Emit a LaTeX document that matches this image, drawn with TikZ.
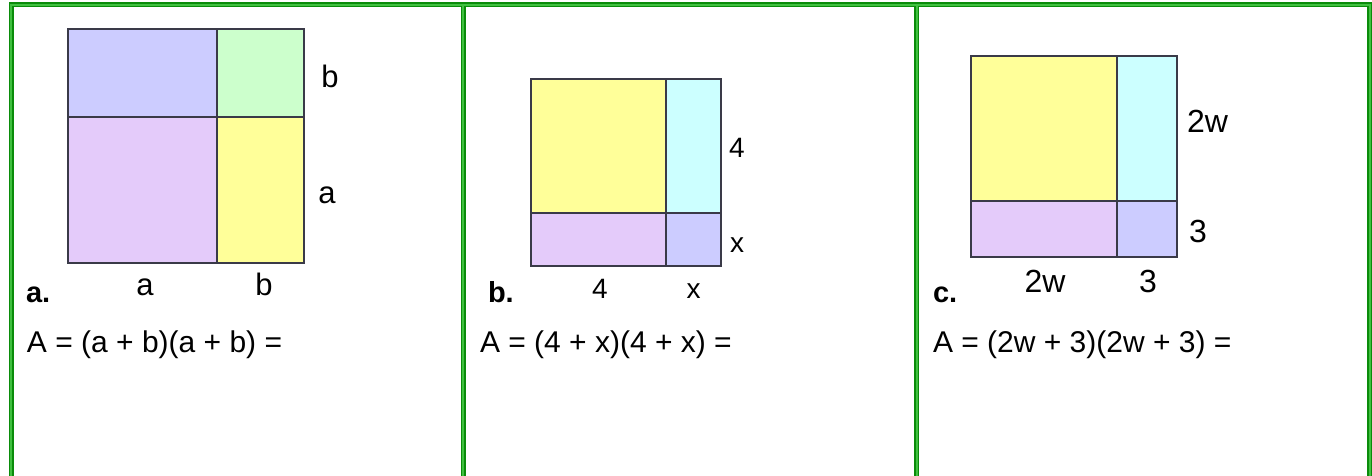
\documentclass[tikz,border=0pt]{standalone}
\usepackage{fontspec}
\setmainfont{Liberation Sans}
\usetikzlibrary{positioning}
\definecolor{gridgreen}{HTML}{0A8C0A}
\definecolor{gridlight}{HTML}{40C040}
\definecolor{boxline}{HTML}{3A3A48}
\definecolor{sqblue}{HTML}{CCCCFF}
\definecolor{sqgreen}{HTML}{CCFFCC}
\definecolor{sqlilac}{HTML}{E4CBFA}
\definecolor{sqyellow}{HTML}{FFFF99}
\definecolor{sqcyan}{HTML}{CCFFFF}

\begin{document}
\begin{tikzpicture}[x=1pt,y=-1pt,
    every node/.style={inner sep=0pt, outer sep=0pt},
    piece/.style={draw=boxline, line width=1.5pt},
    side/.style={anchor=base},
    part/.style={font=\fontsize{29}{29}\selectfont\bfseries, anchor=base west},
    area/.style={font=\fontsize{30}{36}\selectfont, anchor=base west},
    grid/.style={draw=gridgreen, double=gridlight, line width=1.5pt, double distance=2pt}
]
\useasboundingbox[fill=white] (0,0) rectangle (1372,476);

% a.
\filldraw[piece, fill=sqblue]   (68,29)   rectangle (217,117);
\filldraw[piece, fill=sqgreen]  (217,29)  rectangle (304,117);
\filldraw[piece, fill=sqlilac]  (68,117)  rectangle (217,263);
\filldraw[piece, fill=sqyellow] (217,117) rectangle (304,263);
\begin{scope}[every node/.append style={font=\fontsize{31}{31}\selectfont}]
\node[side] (aRightB) at (330,88) {b};
\node[side] (aRightA) at (327,203) {a};
\node[side] (aBottomA) at (145,295) {a};
\node[side] (aBottomB) at (264,295) {b};
\end{scope}
\node[part] (aTag) at (26,302) {a.};
\node[area] (aArea) at (27,352) {A = (a + b)(a + b) =};

% b.
\filldraw[piece, fill=sqyellow] (531,79)  rectangle (666,213);
\filldraw[piece, fill=sqcyan]   (666,79)  rectangle (721,213);
\filldraw[piece, fill=sqlilac]  (531,213) rectangle (666,266);
\filldraw[piece, fill=sqblue]   (666,213) rectangle (721,266);
\begin{scope}[every node/.append style={font=\fontsize{28}{28}\selectfont}]
\node[side] (bRightFour) at (737,157) {4};
\node[side] (bRightX) at (737,252) {x};
\node[side] (bBottomFour) at (600,298) {4};
\node[side] (bBottomX) at (693.5,298) {x};
\end{scope}
\node[part] (bTag) at (488,302) {b.};
\node[area] (bArea) at (480,352) {A = (4 + x)(4 + x) =};

% c.
\filldraw[piece, fill=sqyellow] (971,56)   rectangle (1117,201);
\filldraw[piece, fill=sqcyan]   (1117,56)  rectangle (1177,201);
\filldraw[piece, fill=sqlilac]  (971,201)  rectangle (1117,257);
\filldraw[piece, fill=sqblue]   (1117,201) rectangle (1177,257);
\begin{scope}[every node/.append style={font=\fontsize{32}{32}\selectfont}]
\node[side] (cRightW) at (1207.5,132) {2w};
\node[side] (cRightThree) at (1198,242) {3};
\node[side] (cBottomW) at (1045,292) {2w};
\node[side] (cBottomThree) at (1148,292) {3};
\end{scope}
\node[part] (cTag) at (933,302) {c.};
\node[area] (cArea) at (933,352) {A = (2w + 3)(2w + 3) =};

% table rules
\draw[grid] (11,476) -- (11,5) -- (1369.5,5) -- (1369.5,476)
    (463,5) -- (463,476) (916.5,5) -- (916.5,476);
\end{tikzpicture}
\end{document}
